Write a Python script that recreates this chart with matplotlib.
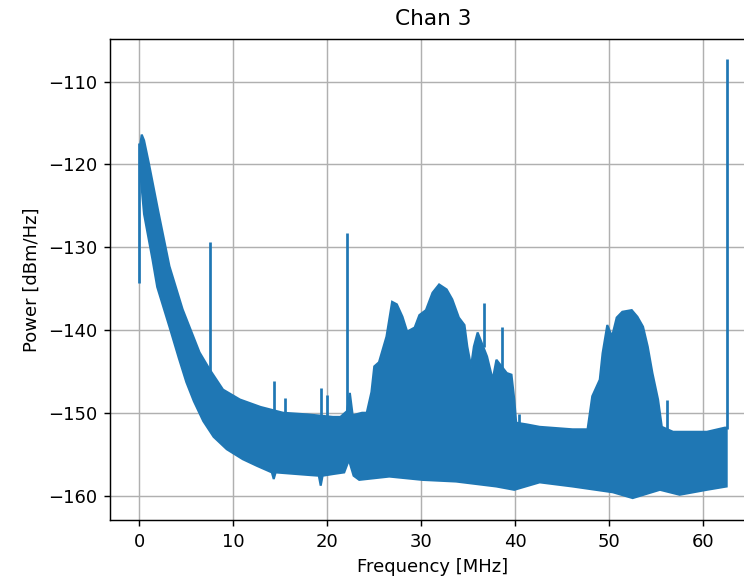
import numpy as np
import matplotlib
matplotlib.use("Agg")
import matplotlib.pyplot as plt

# upper edge of the noise band (MHz, dBm/Hz)
upper_freq = [0.1, 0.25, 0.5, 1.0, 2.0, 3.2, 4.6, 6.4, 7.5, 8.9, 10.7, 12.9, 15.3,
              17.9, 20.6, 21.4, 22.1, 22.4, 22.7, 23.7, 24.2, 24.7, 25.0, 25.5,
              26.3, 26.9, 27.4, 28.0, 28.5, 29.3, 29.8, 30.5, 31.2, 31.9, 32.7,
              33.3, 34.0, 34.6, 34.9, 35.3, 35.6, 36.0, 37.0, 37.6, 38.0, 39.1,
              39.6, 39.9, 40.1, 41.2, 42.6, 46.1, 47.7, 48.2, 49.0, 49.3, 49.8,
              50.3, 50.8, 51.4, 52.4, 53.0, 53.6, 54.1, 54.6, 55.2, 55.6, 56.8,
              60.4, 62.3, 62.5]
upper_db = [-117.6, -116.4, -117.1, -119.8, -125.6, -132.3, -137.5, -142.7, -144.8,
            -147.2, -148.4, -149.3, -150.0, -150.2, -150.5, -150.5, -149.8, -147.6,
            -150.3, -150.0, -150.0, -147.5, -144.4, -143.9, -140.8, -136.6, -136.9,
            -138.4, -140.2, -139.7, -138.2, -137.6, -135.5, -134.5, -135.1, -136.3,
            -138.5, -139.4, -142.0, -144.4, -142.0, -140.3, -143.2, -146.0, -143.6,
            -145.2, -145.4, -148.4, -151.2, -151.4, -151.7, -152.0, -152.0, -148.0,
            -146.0, -142.8, -139.4, -140.8, -138.5, -137.8, -137.6, -138.4, -139.6,
            -142.0, -145.2, -148.4, -151.7, -152.3, -152.3, -151.8, -151.8]

# lower edge of the noise band
lower_freq = [0.1, 0.5, 1.4, 1.9, 3.2, 4.2, 5.0, 5.8, 6.8, 7.9, 9.3, 11.0, 12.5,
              14.1, 14.3, 14.5, 17.9, 19.1, 19.3, 19.5, 20.6, 21.8, 22.3, 22.8,
              23.4, 26.6, 30.1, 33.7, 38.0, 39.9, 42.6, 46.1, 50.4, 52.5, 55.4,
              57.5, 60.4, 62.5]
lower_db = [-121.0, -126.0, -131.5, -134.8, -139.6, -143.4, -146.3, -148.6, -151.0,
            -152.9, -154.4, -155.6, -156.4, -157.2, -158.0, -157.2, -157.5, -157.6,
            -158.8, -157.6, -157.4, -157.2, -155.7, -157.6, -158.1, -157.7, -158.1,
            -158.3, -158.9, -159.3, -158.4, -158.9, -159.6, -160.3, -159.3, -159.9,
            -159.3, -158.9]

# narrow tones sticking out of the band
spike_freq = [0.0, 7.57, 14.3, 15.5, 19.3, 20.0, 22.14, 36.7, 38.6, 40.4, 56.2, 62.5]
spike_top = [-117.4, -129.4, -146.2, -148.2, -147.0, -147.8, -128.3, -136.7, -139.6,
             -150.2, -148.4, -107.3]
spike_base = [-134.3, -146.0, -149.8, -150.0, -150.5, -150.5, -150.0, -142.0, -145.0,
              -152.0, -152.0, -152.0]

BLUE = "#1f77b4"
DPI = 130

fig = plt.figure(figsize=(744 / DPI, 577 / DPI), dpi=DPI)
# axes run past the right edge, the reference image is cropped there
ax = fig.add_axes([110 / 744, 57 / 577, 646 / 744, 481 / 577])

poly_x = np.r_[upper_freq, lower_freq[::-1]]
poly_y = np.r_[upper_db, lower_db[::-1]]
ax.fill(poly_x, poly_y, color=BLUE, linewidth=1.2, zorder=2)
ax.vlines(spike_freq, spike_base, spike_top, color=BLUE, linewidth=1.5, zorder=2)

ax.set_xlim(-3.125, 65.625)
ax.set_ylim(-162.95, -104.85)
ax.set_xticks([0, 10, 20, 30, 40, 50, 60])
ax.set_yticks([-160, -150, -140, -130, -120, -110])
ax.grid(True)
ax.set_axisbelow(True)

ax.set_title("Chan 3", pad=8)
ax.set_xlabel("Frequency [MHz]")
ax.set_ylabel("Power [dBm/Hz]")

fig.savefig("out.png", dpi=DPI)
